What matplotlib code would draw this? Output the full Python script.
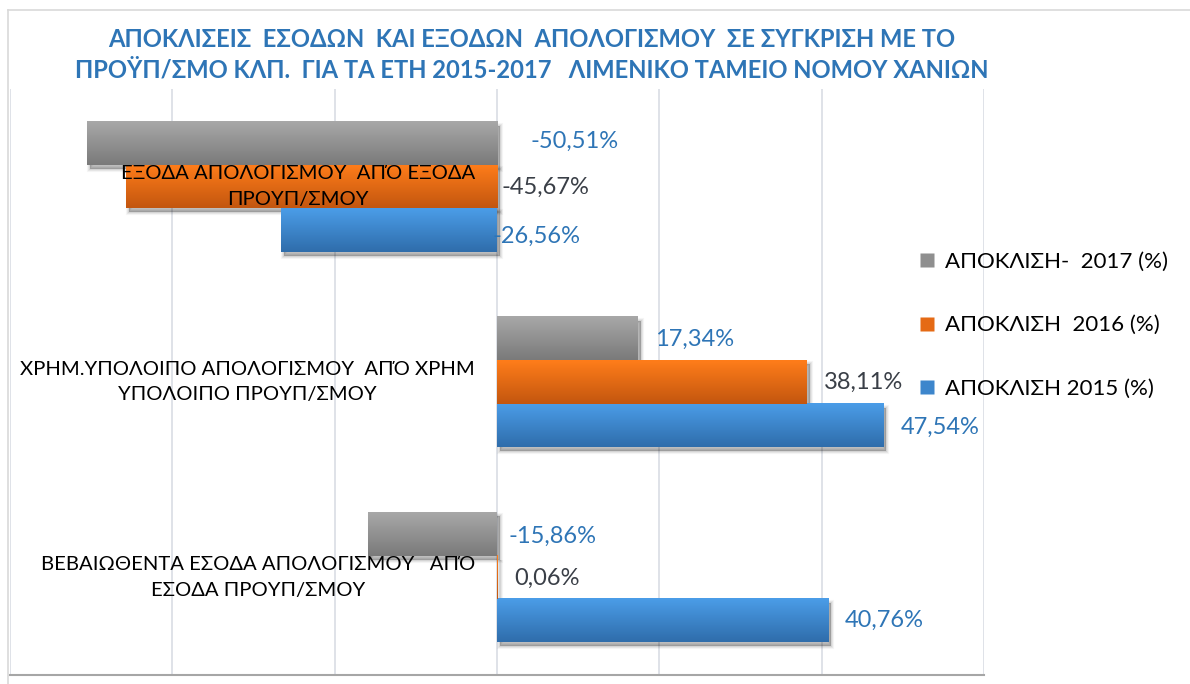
import numpy as np
import matplotlib
matplotlib.use("Agg")
import matplotlib.pyplot as plt
from matplotlib.lines import Line2D
from matplotlib.patches import Rectangle
from matplotlib import transforms

plt.rcParams['font.family'] = ['Lato', 'DejaVu Sans']

# ---------------- data ----------------
categories = [
    "ΒΕΒΑΙΩΘΕΝΤΑ ΕΣΟΔΑ ΑΠΟΛΟΓΙΣΜΟΥ   ΑΠΌ\nΕΣΟΔΑ ΠΡΟΥΠ/ΣΜΟΥ",
    "ΧΡΗΜ.ΥΠΟΛΟΙΠΟ ΑΠΟΛΟΓΙΣΜΟΥ  ΑΠΌ ΧΡΗΜ\nΥΠΟΛΟΙΠΟ ΠΡΟΥΠ/ΣΜΟΥ",
    "ΕΞΟΔΑ ΑΠΟΛΟΓΙΣΜΟΥ  ΑΠΌ ΕΞΟΔΑ\nΠΡΟΥΠ/ΣΜΟΥ",
]
series_names = ["ΑΠΟΚΛΙΣΗ 2015 (%)", "ΑΠΟΚΛΙΣΗ  2016 (%)", "ΑΠΟΚΛΙΣΗ-  2017 (%)"]
values_2015 = [40.76, 47.54, -26.56]
values_2016 = [0.06, 38.11, -45.67]
values_2017 = [-15.86, 17.34, -50.51]

title = ("ΑΠΟΚΛΙΣΕΙΣ  ΕΣΟΔΩΝ  ΚΑΙ ΕΞΟΔΩΝ  ΑΠΟΛΟΓΙΣΜΟΥ  ΣΕ ΣΥΓΚΡΙΣΗ ΜΕ ΤΟ\n"
         "ΠΡΟΫΠ/ΣΜΟ ΚΛΠ.  ΓΙΑ ΤΑ ΕΤΗ 2015-2017   ΛΙΜΕΝΙΚΟ ΤΑΜΕΙΟ ΝΟΜΟΥ ΧΑΝΙΩΝ")

# ---------------- style ----------------
grad_colors = [("#4b9de8", "#2f6dab"),   # 2015 blue
               ("#ff7d1a", "#c3560f"),   # 2016 orange
               ("#a8a8a8", "#7a7a7a")]   # 2017 grey
legend_colors = ["#3d86cc", "#e56a15", "#8f8f8f"]
label_colors = ["#2e75b6", "#3a3f47", "#2e75b6"]
# data label pixel offsets (dx, dy) per series per category
label_dx = [[17, 17, -4], [17, 17, 5], [12, 17, 33]]
label_dy = [[0, -2, -6], [-1, 0, -1], [-2, -1, 2]]

W, H = 1190, 684
fig = plt.figure(figsize=(W / 100, H / 100), dpi=100)
ax = fig.add_axes([9.5 / W, 1 - 675 / H, (984.5 - 9.5) / W, (675 - 89) / H])

y = np.arange(len(categories))
h = 0.2215
offsets = [-h, 0, h]
all_vals = [values_2015, values_2016, values_2017]

ax.set_xlim(-60, 60)
ax.set_ylim(-0.5, 2.5)

shadow_tr = transforms.offset_copy(ax.transData, fig=fig, x=3, y=-4, units='dots')

for s, vals in enumerate(all_vals):
    bars = ax.barh(y + offsets[s], vals, height=h, color='none', edgecolor='none', zorder=3)
    top_c, bot_c = grad_colors[s]
    tc = np.array(matplotlib.colors.to_rgb(top_c))
    bc = np.array(matplotlib.colors.to_rgb(bot_c))
    t = np.linspace(0, 1, 64)[:, None]
    grad = (tc[None, :] * (1 - t) + bc[None, :] * t)[:, None, :]
    for i, b in enumerate(bars):
        x0, yb = b.get_x(), b.get_y()
        wdt, hgt = b.get_width(), b.get_height()
        xl, xr = min(x0, x0 + wdt), max(x0, x0 + wdt)
        # soft shadow
        for k, a in enumerate([0.10, 0.08, 0.06, 0.04]):
            sh = Rectangle((xl, yb), xr - xl, hgt, transform=shadow_tr,
                           facecolor='black', edgecolor='black', lw=k * 1.5,
                           alpha=a, zorder=2)
            ax.add_patch(sh)
        ax.imshow(grad, extent=[xl, xr, yb, yb + hgt], origin='upper',
                  aspect='auto', zorder=3, interpolation='bilinear')
        v = vals[i]
        anchor = v if v >= 0 else 0
        tr = transforms.offset_copy(ax.transData, fig=fig, x=label_dx[s][i],
                                    y=label_dy[s][i], units='dots')
        ax.text(anchor, yb + hgt / 2, f"{v:.2f}%".replace('.', ','),
                transform=tr, ha='left', va='center', fontsize=17,
                color=label_colors[s], zorder=6)

ax.set_xlim(-60, 60)
ax.set_ylim(-0.5, 2.5)

# grid
ax.set_xticks(np.arange(-60, 61, 20))
ax.set_yticks([])
ax.tick_params(axis='x', length=0, labelbottom=False)
ax.grid(axis='x', color='#d9dde4', lw=1.2, zorder=0)
ax.set_axisbelow(True)
for sp in ['top', 'right', 'left']:
    ax.spines[sp].set_visible(False)
ax.spines['bottom'].set_color('#a6a6a6')
ax.spines['bottom'].set_linewidth(1.5)

# category labels
cat_tr = transforms.offset_copy(ax.transData, fig=fig, x=-22, y=0, units='dots')
for i, c in enumerate(categories):
    ax.text(0, y[i], c, transform=cat_tr, ha='right', va='center',
            multialignment='center', fontsize=14.6, color='black',
            linespacing=1.62, zorder=7)

# legend
handles = [Line2D([], [], marker='s', linestyle='none', markersize=10,
                  markerfacecolor=legend_colors[s], markeredgecolor='none')
           for s in [2, 1, 0]]
labels = [series_names[s] for s in [2, 1, 0]]
fig.legend(handles, labels, loc='upper left', bbox_to_anchor=(919 / W, 1 - 252 / H),
           frameon=False, fontsize=16, handlelength=0.7, handletextpad=0.45,
           labelspacing=1.95, borderpad=0, borderaxespad=0)

# title
fig.text(532 / W, 1 - 55 / H, title, ha='center', va='center', fontsize=17.15,
         fontweight='bold', color='#2e75b6', linespacing=1.4)

# chart border
fig.add_artist(Line2D([8 / W, 1], [1 - 10 / H, 1 - 10 / H], color='#d9d9d9', lw=1.2))
fig.add_artist(Line2D([8 / W, 8 / W], [0, 1 - 10 / H], color='#d9d9d9', lw=1.2))

fig.savefig("out.png", dpi=100)
